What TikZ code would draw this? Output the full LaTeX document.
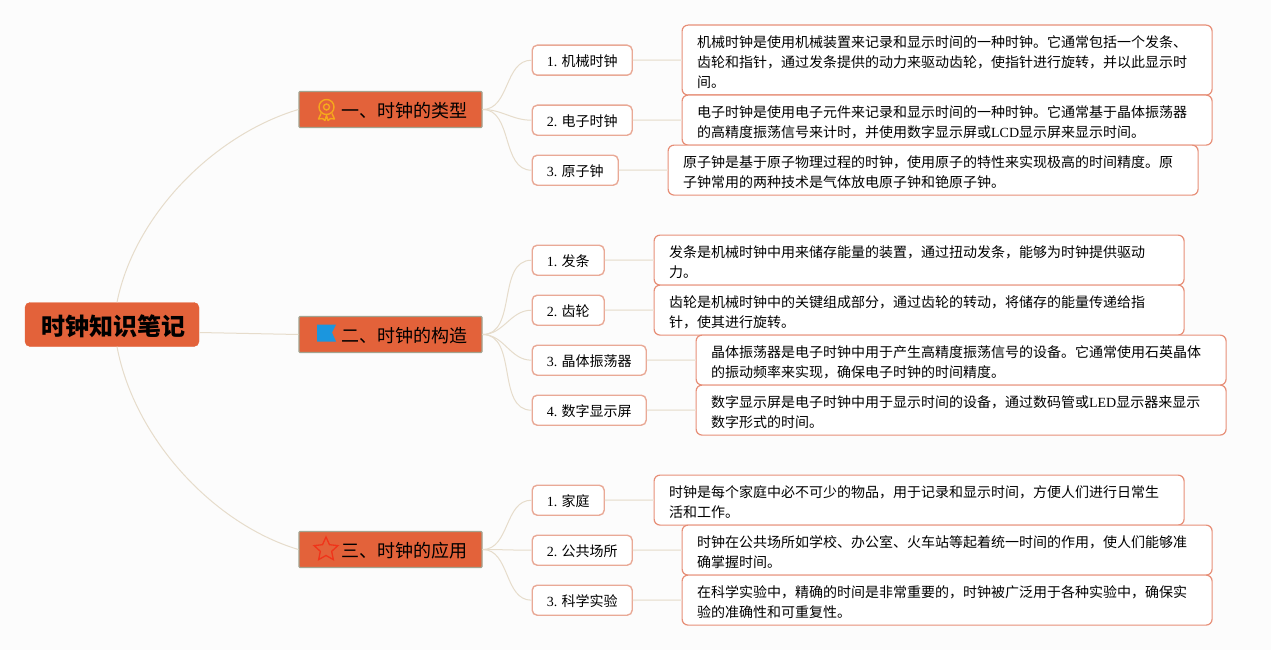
\documentclass[tikz,border=0pt]{standalone}
\usepackage{fontspec}
\setmainfont{Noto Sans CJK SC}
\newfontfamily\latn{Liberation Serif}
\usetikzlibrary{shapes.geometric}
\definecolor{paper}{HTML}{FCFCFC}
\definecolor{boxfill}{HTML}{E3623A}
\definecolor{boxline}{HTML}{A3A38F}
\definecolor{subline}{HTML}{E9A996}
\definecolor{txtline}{HTML}{E78F78}
\definecolor{branch}{HTML}{E6DCCB}
\definecolor{leafline}{HTML}{EDE7DC}
\definecolor{medal}{HTML}{F6A81C}
\definecolor{flag}{HTML}{1B96DE}
\definecolor{staricon}{HTML}{F0341A}
\tikzset{
  rootbox/.style={fill=boxfill,draw=boxfill,rounded corners=5pt,minimum width=174pt,minimum height=44pt,
    font=\fontsize{24}{28}\selectfont\bfseries,inner sep=0pt,text height=24pt,text depth=1.8pt},
  catbox/.style={fill=boxfill,draw=boxline,line width=1.2pt,rounded corners=1pt,minimum width=183pt,minimum height=36pt,
    font=\fontsize{18}{22}\selectfont,inner sep=0pt,text height=18pt,text depth=2.4pt},
  subbox/.style={fill=white,draw=subline,line width=1.4pt,rounded corners=5pt,minimum height=30pt,anchor=north west,
    font=\fontsize{14}{20}\selectfont,inner sep=0pt,text height=14pt,text depth=1.4pt},
  txtbox/.style={fill=white,draw=txtline,line width=1.2pt,rounded corners=6pt,minimum width=530pt,minimum height=50pt,anchor=north west,
    text width=500pt,align=left,inner sep=0pt,font=\fontsize{14}{20}\selectfont,execute at begin node={\rule{0pt}{16.5pt}}},
  link/.style={draw=branch,line width=1pt},
  leaf/.style={draw=leafline,line width=1.6pt}
}
\begin{document}
\begin{tikzpicture}[x=1pt,y=-1pt]
  \useasboundingbox[fill=paper] (0.5,0.5) rectangle (1271.5,650.5);
  % centre and headings
  \node[rootbox] (root) at (112.5,325) {\hspace*{2pt}时钟知识笔记};
  \node[catbox] (catA) at (391,110) {\hspace*{27pt}一、时钟的类型};
  \node[catbox] (catB) at (391,335) {\hspace*{27pt}二、时钟的构造};
  \node[catbox] (catC) at (391,550) {\hspace*{27pt}三、时钟的应用};
  % first group
  \node[subbox,minimum width=100pt] (subA1) at (532,45) {{\latn 1.} 机械时钟};
  \node[subbox,minimum width=100pt] (subA2) at (532,105) {{\latn 2.} 电子时钟};
  \node[subbox,minimum width=86pt] (subA3) at (532,155) {{\latn 3.} 原子钟};
  \node[txtbox,minimum height=70pt] (txtA1) at (682,25) {机械时钟是使用机械装置来记录和显示时间的一种时钟。它通常包括一个发条、\\齿轮和指针，通过发条提供的动力来驱动齿轮，使指针进行旋转，并以此显示时\\间。};
  \node[txtbox] (txtA2) at (682,95) {电子时钟是使用电子元件来记录和显示时间的一种时钟。它通常基于晶体振荡器\\的高精度振荡信号来计时，并使用数字显示屏或{\latn LCD}显示屏来显示时间。};
  \node[txtbox] (txtA3) at (668,145) {原子钟是基于原子物理过程的时钟，使用原子的特性来实现极高的时间精度。原\\子钟常用的两种技术是气体放电原子钟和铯原子钟。};
  % second group
  \node[subbox,minimum width=72pt] (subB1) at (532,245) {{\latn 1.} 发条};
  \node[subbox,minimum width=72pt] (subB2) at (532,295) {{\latn 2.} 齿轮};
  \node[subbox,minimum width=114pt] (subB3) at (532,345) {{\latn 3.} 晶体振荡器};
  \node[subbox,minimum width=114pt] (subB4) at (532,395) {{\latn 4.} 数字显示屏};
  \node[txtbox] (txtB1) at (654,235) {发条是机械时钟中用来储存能量的装置，通过扭动发条，能够为时钟提供驱动\\力。};
  \node[txtbox] (txtB2) at (654,285) {齿轮是机械时钟中的关键组成部分，通过齿轮的转动，将储存的能量传递给指\\针，使其进行旋转。};
  \node[txtbox] (txtB3) at (696,335) {晶体振荡器是电子时钟中用于产生高精度振荡信号的设备。它通常使用石英晶体\\的振动频率来实现，确保电子时钟的时间精度。};
  \node[txtbox] (txtB4) at (696,385) {数字显示屏是电子时钟中用于显示时间的设备，通过数码管或{\latn LED}显示器来显示\\数字形式的时间。};
  % third group
  \node[subbox,minimum width=72pt] (subC1) at (532,485) {{\latn 1.} 家庭};
  \node[subbox,minimum width=100pt] (subC2) at (532,535) {{\latn 2.} 公共场所};
  \node[subbox,minimum width=100pt] (subC3) at (532,585) {{\latn 3.} 科学实验};
  \node[txtbox] (txtC1) at (654,475) {时钟是每个家庭中必不可少的物品，用于记录和显示时间，方便人们进行日常生\\活和工作。};
  \node[txtbox] (txtC2) at (682,525) {时钟在公共场所如学校、办公室、火车站等起着统一时间的作用，使人们能够准\\确掌握时间。};
  \node[txtbox] (txtC3) at (682,575) {在科学实验中，精确的时间是非常重要的，时钟被广泛用于各种实验中，确保实\\验的准确性和可重复性。};
  % connectors
  \draw[link] ([xshift=5pt]root.north) .. controls (135,215) and (215,135) .. (catA.west);
  \draw[link] ([yshift=-8pt]root.east) -- (catB.west);
  \draw[link] ([xshift=5pt]root.south) .. controls (135,440) and (215,525) .. (catC.west);
  \foreach \g/\n in {A/1,A/2,A/3,B/1,B/2,B/3,B/4,C/1,C/2,C/3}{
    \draw[link] (cat\g.east) to[out=0,in=180] (sub\g\n.west);
    \draw[leaf] (sub\g\n.east) -- (txt\g\n.west);
  }
  % icons
  \draw[medal,line width=1.4pt] (327,107.5) circle (7.5pt) (327,107.5) circle (3pt);
  \draw[medal,line width=1.4pt,line join=round] (321.5,114) -- (319,119.5) -- (323,119) -- (325.5,121) -- (327,116) -- (328.5,121) -- (331,119) -- (335,119.5) -- (332.5,114);
  \fill[flag] (317.5,325) -- (336.5,325) -- (332.5,333) -- (336.5,342) -- (317.5,342) -- cycle;
  \node[star,star points=5,star point ratio=2.1,draw=staricon,line width=1.3pt,minimum size=25pt,inner sep=0pt] (starC) at (326.5,550) {};
\end{tikzpicture}
\end{document}
